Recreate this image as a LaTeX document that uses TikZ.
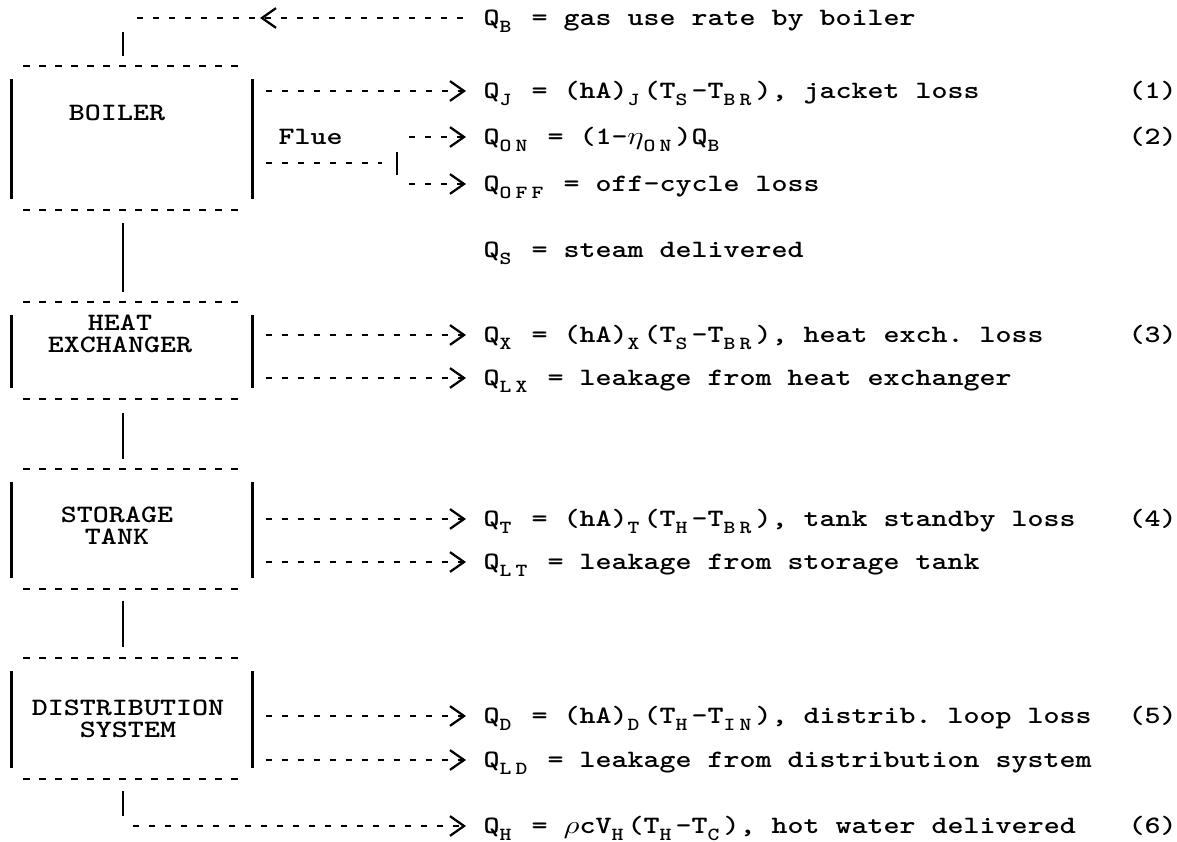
\documentclass[tikz,border=0pt]{standalone}
\usepackage{graphicx}
\usetikzlibrary{arrows.meta,calc}

\newcommand{\tw}[1]{\scalebox{1}[0.82]{#1}}
\newcommand{\subcell}[1]{\makebox[0.2cm][l]{\raisebox{-3pt}{\fontsize{8}{8}\selectfont #1}}}
\newcommand{\grcell}[1]{\makebox[0.2cm]{$#1$}}

\tikzset{
  side/.style={line width=0.9pt},
  hyph/.style={line width=0.75pt, dash pattern=on 2.2pt off 3.49pt},
  flow/.style={hyph, -{Straight Barb[length=5pt,width=7pt,line width=0.8pt]}},
  unit/.style={rectangle, inner sep=0pt, minimum width=3cm},
  unitlbl/.style={inner sep=0pt, font=\fontsize{10.84}{12}\selectfont\ttfamily\bfseries},
  eqtext/.style={anchor=west, inner sep=0pt, text height=5.43pt, text depth=0pt,
    font=\fontsize{10.84}{12}\selectfont\ttfamily\bfseries\frenchspacing},
}

\begin{document}
\begin{tikzpicture}[x=0.0125cm, y=-0.0125cm]
		\useasboundingbox (0,0) rectangle (1177,842);
		
		\node[unit, minimum height=1.775cm] (boiler) at (132,138) {};
		\node[unit, minimum height=1.1875cm] (hx) at (132,350.5) {};
		\node[unit, minimum height=1.475cm] (tank) at (132,529) {};
		\node[unit, minimum height=1.4875cm] (dist) at (132,718.5) {};
		
		\node[unitlbl] (boilerlbl) at (117,113) {\tw{BOILER}};
		\node[unitlbl] (hxlbl) at (120,336) {\tw{\begin{tabular}{@{}c@{}}HEAT\\[-2.5pt]EXCHANGER\end{tabular}}};
		\node[unitlbl] (tanklbl) at (117,528) {\tw{\begin{tabular}{@{}c@{}}STORAGE\\[-2.5pt]TANK\end{tabular}}};
		\node[unitlbl] (distlbl) at (128,721) {\tw{\begin{tabular}{@{}c@{}}DISTRIBUTION\\[-2.5pt]SYSTEM\end{tabular}}};
		
		\node[eqtext] (qb) at (483,18) {\tw{Q\subcell{B} = gas use rate by boiler}};
		\node[eqtext] (qj) at (483,91) {\tw{Q\subcell{J} = (hA)\subcell{J}(T\subcell{S}-T\subcell{B}\subcell{R}), jacket loss}};
		\node[eqtext] (qon) at (483,137) {\tw{Q\subcell{O}\subcell{N} = (1-\grcell{\eta}\subcell{O}\subcell{N})Q\subcell{B}}};
		\node[eqtext] (qoff) at (483,184) {\tw{Q\subcell{O}\subcell{F}\subcell{F} = off-cycle loss}};
		\node[eqtext] (qs) at (483,250) {\tw{Q\subcell{S} = steam delivered}};
		\node[eqtext] (qx) at (483,335) {\tw{Q\subcell{X} = (hA)\subcell{X}(T\subcell{S}-T\subcell{B}\subcell{R}), heat exch. loss}};
		\node[eqtext] (qlx) at (483,378) {\tw{Q\subcell{L}\subcell{X} = leakage from heat exchanger}};
		\node[eqtext] (qt) at (483,519) {\tw{Q\subcell{T} = (hA)\subcell{T}(T\subcell{H}-T\subcell{B}\subcell{R}), tank standby loss}};
		\node[eqtext] (qlt) at (483,562) {\tw{Q\subcell{L}\subcell{T} = leakage from storage tank}};
		\node[eqtext] (qd) at (483,716) {\tw{Q\subcell{D} = (hA)\subcell{D}(T\subcell{H}-T\subcell{I}\subcell{N}), distrib. loop loss}};
		\node[eqtext] (qld) at (483,760) {\tw{Q\subcell{L}\subcell{D} = leakage from distribution system}};
		\node[eqtext] (qh) at (483,826) {\tw{Q\subcell{H} = \grcell{\rho}cV\subcell{H}(T\subcell{H}-T\subcell{C}), hot water delivered}};
		
		\node[eqtext] (eq1) at (1128,91) {\tw{(1)}};
		\node[eqtext] (eq2) at (1128,137) {\tw{(2)}};
		\node[eqtext] (eq3) at (1128,335) {\tw{(3)}};
		\node[eqtext] (eq4) at (1128,519) {\tw{(4)}};
		\node[eqtext] (eq5) at (1128,716) {\tw{(5)}};
		\node[eqtext] (eq6) at (1128,826) {\tw{(6)}};
		
		\node[eqtext] (fluelbl) at (278,137) {\tw{Flue}};
		\coordinate (fluebar) at (397,163);
		\coordinate (gasarrow) at (260,18);
		\coordinate (gascorner) at (137,18);
		
		% unit outlines
		\draw[side] ([shift={(0,13)}]boiler.north west) -- ([shift={(0,-11)}]boiler.south west)
			([shift={(0,13)}]boiler.north east) -- ([shift={(0,-11)}]boiler.south east);
		\draw[hyph] ([shift={(12,0)}]boiler.north west) -- ([shift={(-14,0)}]boiler.north east)
			([shift={(12,0)}]boiler.south west) -- ([shift={(-14,0)}]boiler.south east);
		\draw[side] ([shift={(0,13)}]hx.north west) -- ([shift={(0,-11)}]hx.south west)
			([shift={(0,13)}]hx.north east) -- ([shift={(0,-11)}]hx.south east);
		\draw[hyph] ([shift={(12,0)}]hx.north west) -- ([shift={(-14,0)}]hx.north east)
			([shift={(12,0)}]hx.south west) -- ([shift={(-14,0)}]hx.south east);
		\draw[side] ([shift={(0,13)}]tank.north west) -- ([shift={(0,-11)}]tank.south west)
			([shift={(0,13)}]tank.north east) -- ([shift={(0,-11)}]tank.south east);
		\draw[hyph] ([shift={(12,0)}]tank.north west) -- ([shift={(-14,0)}]tank.north east)
			([shift={(12,0)}]tank.south west) -- ([shift={(-14,0)}]tank.south east);
		\draw[side] ([shift={(0,13)}]dist.north west) -- ([shift={(0,-11)}]dist.south west)
			([shift={(0,13)}]dist.north east) -- ([shift={(0,-11)}]dist.south east);
		\draw[hyph] ([shift={(12,0)}]dist.north west) -- ([shift={(-14,0)}]dist.north east)
			([shift={(12,0)}]dist.south west) -- ([shift={(-14,0)}]dist.south east);
		
		% gas in
		\draw[flow] ([shift={(-20,0)}]qb.west) -- (gasarrow);
		\draw[hyph] ([shift={(-5,0)}]gasarrow) -- (gascorner);
		\draw[side] ([shift={(-9,-10)}]boiler.north) -- ([shift={(-9,-34)}]boiler.north);
		
		% chain of units
		\draw[side] ([shift={(-9,13)}]boiler.south) -- ([shift={(-9,-10)}]hx.north);
		\draw[side] ([shift={(-9,14)}]hx.south) -- ([shift={(-9,-10)}]tank.north);
		\draw[side] ([shift={(-9,12)}]tank.south) -- ([shift={(-9,-11)}]dist.north);
		\draw[side] ([shift={(-9,12)}]dist.south) -- ([shift={(-9,37)}]dist.south);
		\draw[flow] ($(dist.south |- qh.west)+(1,0)$) -- ([shift={(-17,0)}]qh.west);
		
		% losses
		\draw[flow] ($(boiler.east |- qj.west)+(13,0)$) -- ([shift={(-17,0)}]qj.west);
		\draw[hyph] ($(boiler.east |- fluebar)+(13,0)$) -- ([shift={(-15,0)}]fluebar);
		\draw[side] ([shift={(0,-11)}]fluebar) -- ([shift={(0,12)}]fluebar);
		\draw[flow] ($(fluebar |- qon.west)+(12,0)$) -- ([shift={(-17,0)}]qon.west);
		\draw[flow] ($(fluebar |- qoff.west)+(12,0)$) -- ([shift={(-17,0)}]qoff.west);
		\draw[flow] ($(hx.east |- qx.west)+(13,0)$) -- ([shift={(-17,0)}]qx.west);
		\draw[flow] ($(hx.east |- qlx.west)+(13,0)$) -- ([shift={(-17,0)}]qlx.west);
		\draw[flow] ($(tank.east |- qt.west)+(13,0)$) -- ([shift={(-17,0)}]qt.west);
		\draw[flow] ($(tank.east |- qlt.west)+(13,0)$) -- ([shift={(-17,0)}]qlt.west);
		\draw[flow] ($(dist.east |- qd.west)+(13,0)$) -- ([shift={(-17,0)}]qd.west);
		\draw[flow] ($(dist.east |- qld.west)+(13,0)$) -- ([shift={(-17,0)}]qld.west);
\end{tikzpicture}
\end{document}
